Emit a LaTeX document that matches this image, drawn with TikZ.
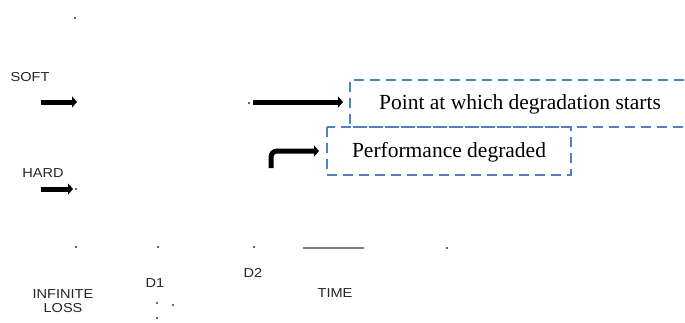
\documentclass[tikz,border=0pt]{standalone}
\usepackage{fontspec}
\setmainfont{Liberation Serif}
\newfontfamily\lbl[FakeStretch=1.12]{Liberation Sans}
\usetikzlibrary{arrows.meta}
\definecolor{boxblue}{HTML}{4F81BD}
\definecolor{axisgray}{HTML}{7F7F7F}
\tikzset{
  x=1pt, y=-1pt,
  lab/.style={font=\lbl\fontsize{13}{14.5}\selectfont, text=black!85, inner sep=0pt, align=center},
  bigarrow/.style={line width=5pt, -{Triangle[length=5pt,width=11pt]}},
  dashbox/.style={draw=boxblue, line width=2.2pt, dash pattern=on 10pt off 6pt},
  boxtext/.style={font=\fontsize{21.5}{24}\selectfont, inner sep=0pt},
  speck/.style={fill=black!60, inner sep=0pt, minimum size=2pt},
}
\begin{document}
\begin{tikzpicture}
\useasboundingbox (0,0) rectangle (685,322);
% labels
\node[lab] (soft) at (30,77) {SOFT};
\node[lab] (hard) at (43,173) {HARD};
\node[lab] (inf) at (63,301) {INFINITE\\LOSS};
\node[lab] (d1) at (155,283) {D1};
\node[lab] (d2) at (253,273) {D2};
\node[lab] (time) at (335,293) {TIME};
% specks
\node[speck] (s0) at (75,18) {};
\node[speck] (s1) at (76,247) {};
\node[speck] (s2) at (158,247) {};
\node[speck] (s3) at (254,247) {};
\node[speck] (s4) at (447,248) {};
\node[speck] (s5) at (76,189) {};
\node[speck] (s6) at (249,103) {};
\node[speck] (s7) at (157,303) {};
\node[speck] (s8) at (173,305) {};
\node[speck] (s9) at (157,318) {};
% gray segment
\coordinate (g1) at (303,248);
\coordinate (g2) at (364,248);
\draw[axisgray, line width=2pt] (g1) -- (g2);
% boxes
\draw[dashbox] (700,80) -- (350,80) -- (350,127) -- (700,127);
\draw[dashbox] (327,127) rectangle (571,175);
\node[boxtext] (pt) at (520,104) {Point at which degradation starts};
\node[boxtext] (pd) at (449,152) {Performance degraded};
% arrows
\coordinate (a1) at (41,102);
\coordinate (a1e) at (77,102);
\draw[bigarrow] (a1) -- (a1e);
\coordinate (a2) at (41,189);
\coordinate (a2e) at (73,189);
\draw[bigarrow] (a2) -- (a2e);
\coordinate (a3) at (253,102);
\coordinate (a3e) at (343,102);
\draw[bigarrow] (a3) -- (a3e);
\coordinate (b1) at (271,168);
\coordinate (b2) at (319,151);
\draw[bigarrow, rounded corners=6pt] (b1) -- (271,151) -- (b2);
\end{tikzpicture}
\end{document}
